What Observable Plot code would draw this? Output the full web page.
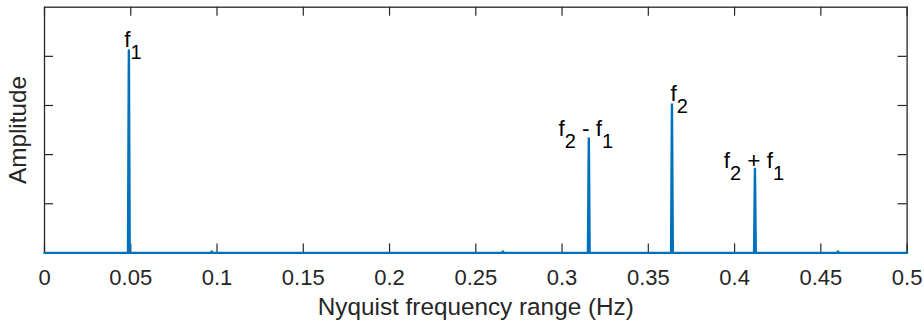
<!DOCTYPE html>
<html><head><meta charset="utf-8">
<script src="https://cdn.jsdelivr.net/npm/d3@7"></script>
<script src="https://cdn.jsdelivr.net/npm/@observablehq/plot@0.6"></script>
<style>body{margin:0;background:#fff}</style>
</head><body><div id="chart"></div>
<script>
// Spectrum samples (frequency in Hz, amplitude)
const freq = [0, 0.0484, 0.0489, 0.0494, 0.0965, 0.0970, 0.0975, 0.2652, 0.2657, 0.2662,
              0.3150, 0.3155, 0.3160, 0.3632, 0.3637, 0.3642, 0.4113, 0.4118, 0.4123,
              0.4595, 0.4600, 0.4605, 0.5];
const amp  = [0, 0, 4.12, 0, 0, 0.03, 0, 0, 0.03, 0,
              0, 2.33, 0, 0, 3.02, 0, 0, 1.71, 0,
              0, 0.03, 0, 0];

const xTicks = [0, 0.05, 0.1, 0.15, 0.2, 0.25, 0.3, 0.35, 0.4, 0.45, 0.5];
const xTickLabels = ["0", "0.05", "0.1", "0.15", "0.2", "0.25", "0.3", "0.35", "0.4", "0.45", "0.5"];
const yTicks = [1, 2, 3, 4];

// Peak annotations (TeX-like: _n = subscript), anchored at text start / baseline
const labelText = ["f_1", "f_2 - f_1", "f_2", "f_2 + f_1"];
const labelFreq = [0.0462, 0.2979, 0.3629, 0.3937];
const labelAmp  = [4.18, 2.37, 3.10, 1.73];

const xLabel = "Nyquist frequency range (Hz)";
const yLabel = "Amplitude";

const spectrum = freq.map((f, i) => ({f, a: amp[i]}));
const labels = labelText.map((t, i) => ({t, f: labelFreq[i], a: labelAmp[i]}));

const axisColor = "#262626";
const lineColor = "#0072BD";

const chart = Plot.plot({
  width: 924, height: 325,
  marginLeft: 44, marginRight: 17.4, marginTop: 6.7, marginBottom: 72.6,
  style: {fontFamily: "'Liberation Sans', Arial, Helvetica, sans-serif", fontSize: "22px", color: axisColor, background: "#fff", overflow: "visible"},
  x: {domain: [0, 0.5], axis: null},
  y: {domain: [0, 5], axis: null},
  marks: [
    Plot.frame({stroke: axisColor, strokeWidth: 1.3}),
    Plot.axisX(xTicks, {tickSize: 0, tickPadding: 16, tickFormat: d => xTickLabels[xTicks.indexOf(d)], fill: axisColor, fontSize: 22, label: null}),
    Plot.ruleX(xTicks, {x: d => d, y1: () => 0, y2: () => 0, insetBottom: 9, stroke: axisColor, strokeWidth: 1.2}),
    Plot.ruleX(xTicks, {x: d => d, y1: () => 5, y2: () => 5, insetTop: 9, stroke: axisColor, strokeWidth: 1.2}),
    Plot.ruleY(yTicks, {y: d => d, x1: () => 0, x2: () => 0, insetLeft: 9, stroke: axisColor, strokeWidth: 1.2}),
    Plot.ruleY(yTicks, {y: d => d, x1: () => 0.5, x2: () => 0.5, insetRight: 9, stroke: axisColor, strokeWidth: 1.2}),
    Plot.line(spectrum, {x: "f", y: "a", stroke: lineColor, strokeWidth: 2.4}),
    Plot.text(labels, {x: "f", y: "a", text: "t", textAnchor: "start", lineAnchor: "bottom", fill: "#000", fontSize: 22.5}),
    Plot.text([xLabel], {text: d => d, frameAnchor: "bottom", dy: 54.5, textAnchor: "middle", lineAnchor: "middle", fontSize: 24.3, fill: axisColor}),
    Plot.text([yLabel], {text: d => d, frameAnchor: "left", rotate: -90, dx: -26.5, textAnchor: "middle", lineAnchor: "middle", fontSize: 24.3, fill: axisColor})
  ]
});

// Render TeX-like subscripts as tspans
const SUB_SHIFT = 12, SUB_SIZE = 20;
chart.querySelectorAll("text").forEach(t => {
  const s = t.textContent;
  if (!s.includes("_")) return;
  t.textContent = "";
  t.setAttribute("style", "white-space:pre");
  const parts = s.split(/_(\d)/);
  let inSub = false;
  parts.forEach((p, i) => {
    if (!p) return;
    const ts = document.createElementNS("http://www.w3.org/2000/svg", "tspan");
    const isSub = i % 2 === 1;
    if (isSub && !inSub) ts.setAttribute("dy", SUB_SHIFT);
    if (!isSub && inSub) ts.setAttribute("dy", -SUB_SHIFT);
    if (isSub) ts.setAttribute("font-size", SUB_SIZE);
    inSub = isSub;
    ts.textContent = p;
    t.appendChild(ts);
  });
});

document.getElementById("chart").appendChild(chart);
</script>
</body></html>
